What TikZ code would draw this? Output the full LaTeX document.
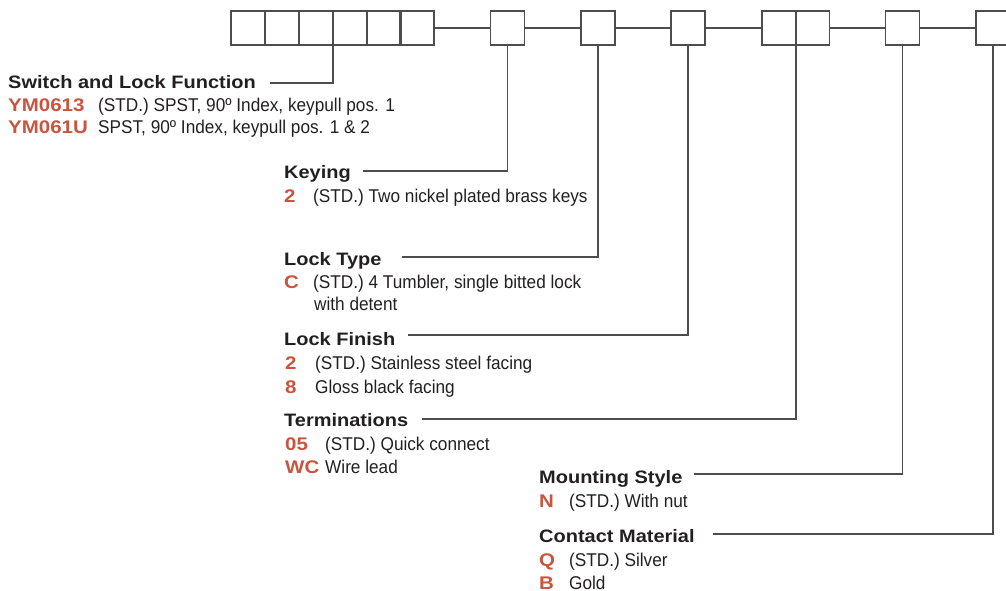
\documentclass[tikz,border=0pt]{standalone}
\usepackage{fontspec}
\setmainfont{Liberation Sans}
\newfontfamily\headfont[FakeStretch=1.11]{Liberation Sans}
\newfontfamily\codefont[FakeStretch=1.12]{Liberation Sans}
\newfontfamily\bodyfont[FakeStretch=0.93]{Liberation Sans}
\definecolor{codecol}{HTML}{C9553E}
\definecolor{txtcol}{HTML}{231F20}
\definecolor{linecol}{HTML}{4D4D4D}
\begin{document}
\begin{tikzpicture}[x=1pt,y=-1pt,
  cell/.style={draw=linecol,line width=1.2pt,minimum width=34pt,minimum height=34pt,inner sep=0pt,outer sep=0pt},
  lead/.style={draw=linecol,line width=1.2pt},
  head/.style={anchor=base west,inner sep=0pt,text=txtcol,font=\headfont\bfseries\fontsize{18}{20}\selectfont},
  code/.style={anchor=base west,inner sep=0pt,text=codecol,font=\codefont\bfseries\fontsize{18.3}{20}\selectfont},
  desc/.style={anchor=base west,inner sep=0pt,text=txtcol,font=\bodyfont\fontsize{18.5}{20}\selectfont}]
\useasboundingbox (0,0) rectangle (1006,591);
% boxes
\node[cell] (a1) at (248,28) {};
\node[cell] (a2) at (282,28) {};
\node[cell] (a3) at (316,28) {};
\node[cell] (a4) at (350,28) {};
\node[cell] (a5) at (384,28) {};
\node[cell] (a6) at (417,28) {};
\node[cell] (b) at (507.5,28) {};
\node[cell] (c) at (598,28) {};
\node[cell] (d) at (688,28) {};
\node[cell] (e1) at (779,28) {};
\node[cell] (e2) at (812.5,28) {};
\node[cell] (f) at (902.5,28) {};
\node[cell] (g) at (993,28) {};
\draw[lead] (a6.east) -- (b.west);
\draw[lead] (b.east) -- (c.west);
\draw[lead] (c.east) -- (d.west);
\draw[lead] (d.east) -- (e1.west);
\draw[lead] (e2.east) -- (f.west);
\draw[lead] (f.east) -- (g.west);
% texts
\node[head] (h1) at (8,89) {Switch and Lock Function};
\node[code] (c1a) at (8,112) {YM0613};
\node[desc] (d1a) at (98,112) {(STD.) SPST, 90º Index, keypull pos. 1};
\node[code] (c1b) at (8,134) {YM061U};
\node[desc] (d1b) at (98,134) {SPST, 90º Index, keypull pos. 1 \& 2};

\node[head] (h2) at (284,178) {Keying};
\node[code] (c2) at (284,202) {2};
\node[desc] (d2) at (313,202) {(STD.) Two nickel plated brass keys};

\node[head] (h3) at (284,265) {Lock Type};
\node[code] (c3) at (284,288) {C};
\node[desc] (d3) at (313,288) {(STD.) 4 Tumbler, single bitted lock};
\node[desc] (d3b) at (314,310) {with detent};

\node[head] (h4) at (284,345) {Lock Finish};
\node[code] (c4a) at (285,369) {2};
\node[desc] (d4a) at (315,369) {(STD.) Stainless steel facing};
\node[code] (c4b) at (285,393) {8};
\node[desc] (d4b) at (315,393) {Gloss black facing};

\node[head] (h5) at (284,426) {Terminations};
\node[code] (c5a) at (285,450) {05};
\node[desc] (d5a) at (325,450) {(STD.) Quick connect};
\node[code] (c5b) at (285,473) {WC};
\node[desc] (d5b) at (325,473) {Wire lead};

\node[head] (h6) at (539,483) {Mounting Style};
\node[code] (c6) at (539,507) {N};
\node[desc] (d6) at (569,507) {(STD.) With nut};

\node[head] (h7) at (539,542) {Contact Material};
\node[code] (c7a) at (539,566) {Q};
\node[desc] (d7a) at (569,566) {(STD.) Silver};
\node[code] (c7b) at (539,589) {B};
\node[desc] (d7b) at (569,589) {Gold};

% leader ends
\coordinate (l1) at (270,83);
\coordinate (l2) at (363,171);
\coordinate (l3) at (402,257);
\coordinate (l4) at (408,335);
\coordinate (l5) at (422,419);
\coordinate (l6) at (694,474);
\coordinate (l7) at (713,534);
\draw[lead] (a3.south east) |- (l1);
\draw[lead] (b.south) |- (l2);
\draw[lead] (c.south) |- (l3);
\draw[lead] (d.south) |- (l4);
\draw[lead] (e1.south east) |- (l5);
\draw[lead] (f.south) |- (l6);
\draw[lead] (g.south) |- (l7);
\end{tikzpicture}
\end{document}
